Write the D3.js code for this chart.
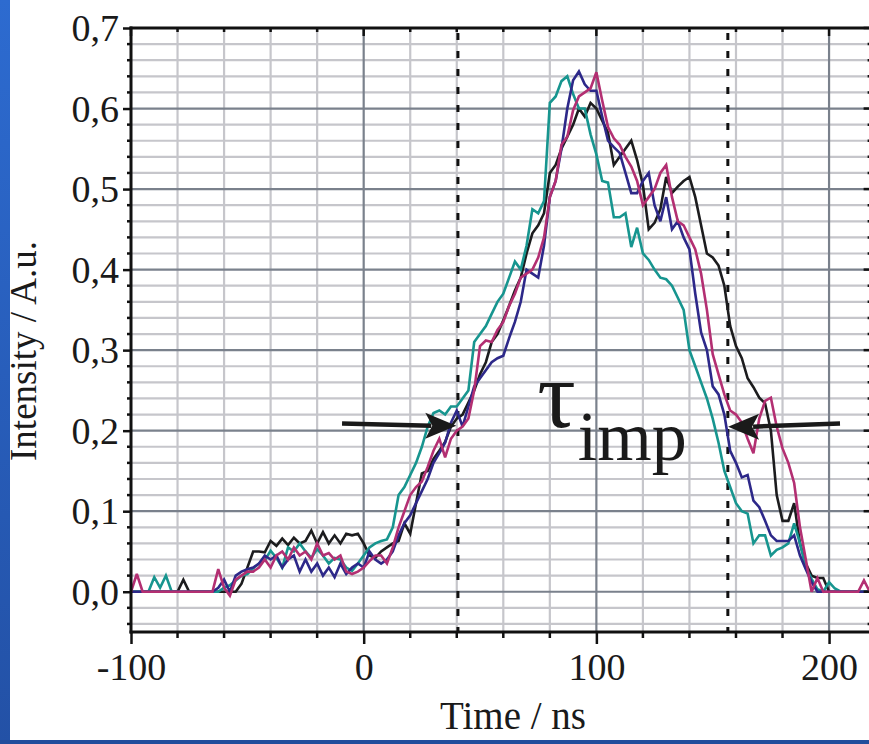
<!DOCTYPE html>
<html><head><meta charset="utf-8">
<script src="https://cdn.jsdelivr.net/npm/d3@7"></script>
<style>html,body{margin:0;padding:0;background:#fff;overflow:hidden}svg{display:block}</style>
</head><body><svg id="c" width="869" height="744"></svg>
<script>
// ---------- data ----------
const time = [
 -100,-97.5,-95,-92.5,-90,-87.5,-85,-82.5,-80,-77.5,
 -75,-72.5,-70,-67.5,-65,-62.5,-60,-57.5,-55,-52.5,
 -50,-47.5,-45,-42.5,-40,-37.5,-35,-32.5,-30,-27.5,
 -25,-22.5,-20,-17.5,-15,-12.5,-10,-7.5,-5,-2.5,
 0,2.5,5,7.5,10,12.5,15,17.5,20,22.5,
 25,27.5,30,32.5,35,37.5,40,42.5,45,47.5,
 50,52.5,55,57.5,60,62.5,65,67.5,70,72.5,
 75,77.5,80,82.5,85,87.5,90,92.5,95,97.5,
 100,102.5,105,107.5,110,112.5,115,117.5,120,122.5,
 125,127.5,130,132.5,135,137.5,140,142.5,145,147.5,
 150,152.5,155,157.5,160,162.5,165,167.5,170,172.5,
 175,177.5,180,182.5,185,187.5,190,192.5,195,197.5,
 200,202.5,205,207.5,210,212.5,215,217.5,220];

const seriesBlack = [
 0,0,0,0,0,0,0,0,0,0.015,
 0,0,0,0,0,0,0,0,0,0.01,
 0.03,0.05,0.05,0.049,0.063,0.057,0.066,0.058,0.067,0.06,
 0.063,0.076,0.06,0.074,0.06,0.07,0.06,0.072,0.07,0.072,
 0.06,0.045,0.042,0.05,0.055,0.06,0.063,0.085,0.072,0.11,
 0.147,0.15,0.165,0.175,0.186,0.205,0.215,0.22,0.235,0.25,
 0.27,0.285,0.31,0.32,0.337,0.355,0.374,0.39,0.42,0.445,
 0.455,0.47,0.52,0.53,0.55,0.565,0.58,0.6,0.59,0.607,
 0.6,0.585,0.57,0.53,0.54,0.55,0.56,0.536,0.505,0.45,
 0.458,0.475,0.515,0.495,0.503,0.51,0.515,0.49,0.455,0.42,
 0.415,0.405,0.38,0.33,0.305,0.29,0.265,0.254,0.241,0.234,
 0.2,0.12,0.088,0.088,0.11,0.06,0.035,0.02,0.017,0.017,
 0,0,0,0,0,0,0,0,0];

const seriesTeal = [
 0,0,0,0,0.018,0.005,0.02,0,0,0,
 0,0,0,0,0,0,0.005,0.008,0.014,0.02,
 0.022,0.029,0.035,0.039,0.051,0.042,0.03,0.055,0.05,0.06,
 0.05,0.042,0.053,0.045,0.035,0.042,0.04,0.03,0.026,0.035,
 0.045,0.055,0.06,0.063,0.065,0.08,0.12,0.13,0.145,0.16,
 0.18,0.205,0.222,0.225,0.22,0.23,0.23,0.24,0.25,0.31,
 0.32,0.33,0.345,0.36,0.37,0.39,0.41,0.40,0.43,0.475,
 0.47,0.485,0.607,0.615,0.634,0.64,0.618,0.6,0.6,0.568,
 0.543,0.51,0.508,0.465,0.465,0.47,0.428,0.452,0.42,0.412,
 0.4,0.39,0.388,0.38,0.365,0.35,0.3,0.28,0.26,0.24,
 0.215,0.185,0.15,0.13,0.11,0.1,0.097,0.06,0.07,0.07,
 0.045,0.052,0.055,0.06,0.085,0.06,0.03,0.016,0.003,0,
 0.012,0.004,0,0,0,0,0,0,0];

const seriesNavy = [
 0,0,0,0,0,0,0,0,0,0,
 0,0,0,0,0,0.005,0.015,0,0.02,0.025,
 0.028,0.03,0.035,0.045,0.04,0.045,0.03,0.04,0.045,0.025,
 0.04,0.025,0.035,0.02,0.03,0.018,0.035,0.022,0.03,0.035,
 0.03,0.05,0.04,0.035,0.04,0.05,0.07,0.085,0.095,0.11,
 0.125,0.14,0.16,0.172,0.185,0.21,0.225,0.205,0.23,0.255,
 0.265,0.275,0.285,0.29,0.293,0.315,0.335,0.36,0.40,0.395,
 0.39,0.43,0.49,0.51,0.55,0.6,0.635,0.646,0.63,0.622,
 0.622,0.59,0.56,0.552,0.545,0.52,0.495,0.495,0.51,0.52,
 0.48,0.46,0.49,0.45,0.46,0.44,0.425,0.37,0.322,0.30,
 0.255,0.245,0.22,0.175,0.16,0.142,0.145,0.113,0.105,0.088,
 0.07,0.063,0.063,0.063,0.07,0.045,0.028,0.012,0,0,
 0,0,0,0,0,0,0,0,0];

const seriesMagenta = [
 0,0.022,0,0,0,0,0,0,0,0,
 0,0,0,0,0,0.028,0.005,-0.005,0.015,0.02,
 0.025,0.025,0.03,0.04,0.03,0.045,0.05,0.04,0.055,0.045,
 0.05,0.04,0.06,0.045,0.048,0.04,0.045,0.025,0.022,0.025,
 0.03,0.038,0.045,0.045,0.035,0.055,0.08,0.1,0.12,0.13,
 0.137,0.155,0.175,0.19,0.167,0.19,0.2,0.205,0.215,0.25,
 0.305,0.312,0.31,0.325,0.335,0.355,0.37,0.39,0.395,0.4,
 0.415,0.44,0.49,0.51,0.555,0.565,0.598,0.615,0.62,0.625,
 0.645,0.61,0.577,0.563,0.555,0.54,0.528,0.51,0.48,0.49,
 0.5,0.52,0.53,0.49,0.46,0.455,0.44,0.425,0.395,0.35,
 0.295,0.27,0.245,0.225,0.22,0.21,0.19,0.172,0.215,0.237,
 0.241,0.205,0.178,0.16,0.135,0.08,0.04,0,0.017,0,
 0,0,0,0,0,0,0.014,0,0];

const xTickValues = [-100, 0, 100, 200];
const xTickLabels = ["-100", "0", "100", "200"];
const yTickValues = [0, 0.1, 0.2, 0.3, 0.4, 0.5, 0.6, 0.7];
const yTickLabels = ["0,0", "0,1", "0,2", "0,3", "0,4", "0,5", "0,6", "0,7"];
const xMinor = [-80,-60,-40,-20,20,40,60,80,120,140,160,180,220];
const xMajorGrid = [0, 100, 200];
const yMinor = [-0.04,-0.02,0.02,0.04,0.06,0.08,0.12,0.14,0.16,0.18,0.22,0.24,0.26,0.28,
                0.32,0.34,0.36,0.38,0.42,0.44,0.46,0.48,0.52,0.54,0.56,0.58,0.62,0.64,0.66,0.68];
const yMajorGrid = [0, 0.1, 0.2, 0.3, 0.4, 0.5, 0.6];
const markerTimes = [40.5, 156.5];
const arrows = [
  {from: -9.3, fromV: 0.209, to: 39.8, toV: 0.206},
  {from: 204.7, fromV: 0.209, to: 156.6, toV: 0.205}
];
const tauLabel = {t: 74.6, v: 0.205};
const impLabel = {t: 92, v: 0.163};

const seriesList = [
  {name: "black", values: seriesBlack, color: "#1c1c1e"},
  {name: "teal", values: seriesTeal, color: "#17958f"},
  {name: "navy", values: seriesNavy, color: "#2d2889"},
  {name: "magenta", values: seriesMagenta, color: "#b32f72"}
];

// ---------- drawing ----------
const svg = d3.select("#c");
const FONT = "'Liberation Serif','Times New Roman',serif";
const x = d3.scaleLinear().domain([-100, 220]).range([131, 875.6]);
const y = d3.scaleLinear().domain([-0.05, 0.7]).range([632, 28]);
const [xl, xr] = x.range(); const [yb, yt] = y.range();

// blue frame bits
const defs = svg.append("defs");
const grad = defs.append("linearGradient").attr("id","bl").attr("x1",0).attr("y1",0).attr("x2",0).attr("y2",1);
grad.append("stop").attr("offset","0%").attr("stop-color","#2d6bd0");
grad.append("stop").attr("offset","100%").attr("stop-color","#2351a6");
svg.append("rect").attr("x",0).attr("y",0).attr("width",10).attr("height",744).attr("fill","url(#bl)");
svg.append("rect").attr("x",0).attr("y",740).attr("width",869).attr("height",4).attr("fill","#214d9c");

// grid
const g = svg.append("g");
g.selectAll(".vmin").data(xMinor).join("line")
  .attr("x1", d=>x(d)).attr("x2", d=>x(d)).attr("y1", yt).attr("y2", yb)
  .attr("stroke", "#c6c6cb").attr("stroke-width", 2.2);
g.selectAll(".hmin").data(yMinor).join("line")
  .attr("x1", xl).attr("x2", xr).attr("y1", d=>y(d)).attr("y2", d=>y(d))
  .attr("stroke", "#c6c6cb").attr("stroke-width", 2.2);
g.selectAll(".vmaj").data(xMajorGrid).join("line")
  .attr("x1", d=>x(d)).attr("x2", d=>x(d)).attr("y1", yt).attr("y2", yb)
  .attr("stroke", "#7a818c").attr("stroke-width", 2.2);
g.selectAll(".hmaj").data(yMajorGrid).join("line")
  .attr("x1", xl).attr("x2", xr).attr("y1", d=>y(d)).attr("y2", d=>y(d))
  .attr("stroke", "#7a818c").attr("stroke-width", 2.2);

// dashed markers
svg.selectAll(".mk").data(markerTimes).join("line")
  .attr("x1", d=>x(d)).attr("x2", d=>x(d)).attr("y1", yt).attr("y2", yb)
  .attr("stroke", "#111").attr("stroke-width", 3)
  .attr("stroke-dasharray", "7 11").attr("stroke-dashoffset", 13);

// series
const line = d3.line().x((d,i)=>x(time[i])).y(d=>y(d));
svg.selectAll(".ser").data(seriesList).join("path")
  .attr("d", s=>line(s.values.slice(0, time.length)))
  .attr("fill","none").attr("stroke", s=>s.color).attr("stroke-width", 2.6)
  .attr("stroke-linejoin","miter").attr("stroke-miterlimit", 3);

// minor ticks
const tk = svg.append("g").attr("stroke","#111").attr("stroke-width",2.5);
tk.selectAll(".bt").data(xMinor).join("line")
  .attr("x1", d=>x(d)).attr("x2", d=>x(d)).attr("y1", yb).attr("y2", yb+6);
tk.selectAll(".tt").data(xMinor).join("line")
  .attr("x1", d=>x(d)).attr("x2", d=>x(d)).attr("y1", yt).attr("y2", yt+4);
tk.selectAll(".tM").data(xTickValues).join("line")
  .attr("x1", d=>x(d)).attr("x2", d=>x(d)).attr("y1", yt).attr("y2", yt+8);
tk.selectAll(".lt").data(yMinor).join("line")
  .attr("x1", xl-4).attr("x2", xl).attr("y1", d=>y(d)).attr("y2", d=>y(d));
tk.selectAll(".rt").data(yMinor).join("line")
  .attr("x1", xr-8).attr("x2", xr).attr("y1", d=>y(d)).attr("y2", d=>y(d));
tk.selectAll(".rM").data(yTickValues).join("line")
  .attr("x1", xr-12).attr("x2", xr).attr("y1", d=>y(d)).attr("y2", d=>y(d));

// major axes with labels
const ax = d3.axisBottom(x).tickValues(xTickValues).tickSize(12).tickSizeOuter(0)
  .tickPadding(9).tickFormat((d,i)=>xTickLabels[i]);
const gx = svg.append("g").attr("transform",`translate(0,${yb})`).call(ax);
const ay = d3.axisLeft(y).tickValues(yTickValues).tickSize(8).tickSizeOuter(0)
  .tickPadding(4).tickFormat((d,i)=>yTickLabels[i]);
const gy = svg.append("g").attr("transform",`translate(${xl},0)`).call(ay);
[gx, gy].forEach(a=>{
  a.select(".domain").remove();
  a.selectAll(".tick line").attr("stroke","#111").attr("stroke-width",2.5);
  a.selectAll(".tick text").attr("fill","#1a1a1a").style("font-family",FONT).style("font-size","38px");
});
gy.selectAll(".tick text").attr("dy","0.33em");

// frame
const fr = svg.append("g").attr("stroke","#111").attr("stroke-width",3).attr("stroke-linecap","square");
fr.append("line").attr("x1",xl).attr("x2",xl).attr("y1",yt).attr("y2",yb);
fr.append("line").attr("x1",xl).attr("x2",xr).attr("y1",yt).attr("y2",yt);
fr.append("line").attr("x1",xl).attr("x2",xr).attr("y1",yb).attr("y2",yb);
fr.append("line").attr("x1",xr).attr("x2",xr).attr("y1",yt).attr("y2",yb);

// arrows
const HEAD = 29, HW = 13;
arrows.forEach(a=>{
  const x0 = x(a.from), y0 = y(a.fromV), x1 = x(a.to), y1 = y(a.toV);
  const dir = Math.sign(x1 - x0);
  const bx = x1 - dir*HEAD;
  svg.append("line").attr("x1",x0).attr("y1",y0).attr("x2",bx+dir*4).attr("y2",y1)
    .attr("stroke","#1a1a1a").attr("stroke-width",4.5);
  svg.append("path")
    .attr("d",`M${x1},${y1} L${bx - dir*2},${y1-HW} L${bx+dir*5},${y1} L${bx - dir*2},${y1+HW} Z`)
    .attr("fill","#1a1a1a");
});

// tau_imp label
svg.append("text").attr("x", x(tauLabel.t)).attr("y", y(tauLabel.v))
  .style("font-family",FONT).style("font-size","96px").attr("fill","#1a1a1a").text("τ");
svg.append("text").attr("x", x(impLabel.t)).attr("y", y(impLabel.v))
  .style("font-family",FONT).style("font-size","70px").attr("fill","#1a1a1a").text("imp");

// axis titles
svg.append("text").attr("x", 513).attr("y", 729).attr("text-anchor","middle")
  .style("font-family",FONT).style("font-size","39px").attr("fill","#1a1a1a").text("Time / ns");
svg.append("text").attr("transform","translate(36,351) rotate(-90)").attr("text-anchor","middle")
  .style("font-family",FONT).style("font-size","37px").attr("fill","#1a1a1a").text("Intensity / A.u.");
</script>
</body></html>
